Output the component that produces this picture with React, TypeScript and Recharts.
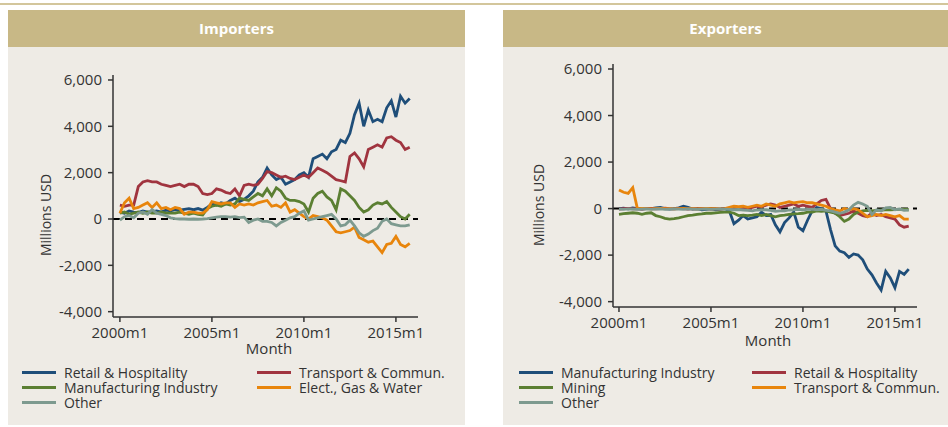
import React from 'react';
import { LineChart, Line, XAxis, YAxis, ReferenceLine } from 'recharts';

// quarterly observations, month index 0 = 2000m1
const QUARTER_MONTHS = Array.from({ length: 64 }, (_, i) => i * 3);
const X_TICKS = [0, 60, 120, 180];
const Y_TICKS = [-4000, -2000, 0, 2000, 4000, 6000];

// Importers
const impRetail = [
  300, 250, 350, 300, 280, 350, 300, 320, 350, 300, 380, 350, 400, 380, 420, 450,
  400, 450, 380, 500, 650, 600, 700, 650, 800, 900, 750, 850, 1000, 1200, 1600, 1800,
  2200, 1900, 1700, 1800, 1500, 1600, 1700, 1900, 2000, 1800, 2600, 2700, 2800, 2600, 2900, 3000,
  3400, 3300, 3700, 4500, 5000, 4000, 4700, 4200, 4300, 4200, 4800, 5100, 4400, 5300, 5000, 5200,
];
const impTransport = [
  600, 550, 600, 600, 1400, 1600, 1650, 1600, 1600, 1500, 1450, 1400, 1450, 1500, 1400, 1500,
  1500, 1400, 1100, 1050, 1100, 1300, 1250, 1150, 1100, 1300, 1000, 1450, 1500, 1450, 1500, 1750,
  2050, 2000, 1900, 1800, 1850, 1750, 1700, 1800, 1900, 1800, 2000, 2200, 2100, 2000, 1850, 1700,
  1650, 1600, 2700, 2850, 2600, 2250, 3000, 3100, 3200, 3100, 3500, 3550, 3400, 3300, 3000, 3100,
];
const impManufacturing = [
  250, 300, 200, 250, 300, 250, 300, 250, 250, 300, 250, 250, 250, 300, 250, 200,
  250, 200, 170, 450, 550, 600, 550, 650, 600, 650, 900, 850, 800, 950, 1100, 1000,
  1300, 1000, 1350, 1200, 900, 800, 800, 750, 650, 300, 900, 1100, 1200, 950, 800, 400,
  1300, 1200, 1000, 800, 500, 300, 400, 600, 700, 650, 750, 500, 300, 100, 0, 200,
];
const impElectricity = [
  250, 700, 900, 450, 500, 600, 700, 500, 700, 450, 500, 400, 500, 450, 200, 300,
  300, 250, 250, 400, 750, 700, 650, 700, 700, 500, 650, 600, 650, 600, 700, 750,
  800, 550, 600, 500, 700, 300, 400, 250, 100, 0, 150, 100, 50, -50, -300, -550,
  -600, -550, -500, -350, -800, -900, -1000, -950, -1200, -1450, -1100, -1050, -750, -1100, -1200, -1050,
];
const impOther = [
  -50, 100, 150, 50, 250, 300, 200, 400, 250, 200, 150, 50, 20, 0, 0, -10,
  0, -10, 0, 20, 50, 80, 100, 100, 80, 100, 60, 80, -150, -50, 0, -100,
  -100, -150, -300, -150, -50, 50, 100, 250, 350, -50, 0, 50, 100, 150, 200, 0,
  -300, -250, -50, -300, -600, -750, -650, -500, -400, -100, 0, -200, -250, -300, -300, -250,
];

// Exporters
const expManufacturing = [
  0, 20, -10, 30, 0, -20, 10, 0, 30, 50, 0, -20, 0, 30, 100, 50,
  -20, 0, -50, -30, 0, -50, -30, 0, -100, -650, -500, -300, -450, -400, -350, -150,
  -300, -250, -700, -1000, -600, -400, -150, -800, -950, -500, -100, 50, 0, -100, -900, -1600,
  -1830, -1900, -2100, -1950, -2000, -2200, -2600, -2850, -3200, -3500, -2700, -2980, -3400, -2700, -2830, -2600,
];
const expRetail = [
  -20, 0, 10, -10, 0, -20, 0, 10, -10, 0, 20, 0, -10, 10, 0, -20,
  0, -10, 10, 0, -20, 0, -10, 0, 0, -20, 0, 20, 0, 50, 100, 80,
  150, 200, 150, 50, 100, 150, 200, 100, 150, 100, 50, 200, 350, 400, 0, -200,
  -300, -250, -200, -100, -200, -300, -350, -200, -300, -250, -350, -400, -450, -700, -800, -750,
];
const expMining = [
  -250, -220, -200, -180, -200, -250, -200, -180, -300, -350, -420, -450, -430, -400, -350, -300,
  -280, -250, -230, -200, -200, -180, -160, -150, -150, -200, -300, -280, -300, -280, -250, -300,
  -250, -300, -350, -300, -280, -250, -230, -220, -200, -150, -150, -100, -120, -100, -150, -200,
  -350, -550, -450, -250, -150, -100, -80, -100, -80, -60, -50, -50, -40, -30, -20, -50,
];
const expTransport = [
  800, 700, 650, 900, 0, 10, 0, -10, 0, 10, 0, 0, -10, 0, 10, 0,
  0, -10, 0, 10, 0, 0, -10, 0, 50, 100, 80, 100, 50, 100, 150, 100,
  200, 150, 100, 200, 250, 300, 250, 280, 300, 250, 250, 200, 150, 100, 0, -50,
  -100, 0, -50, 0, -50, -200, -350, -300, -250, -300, -250, -300, -350, -300, -450, -450,
];
const expOther = [
  -20, -30, -10, -20, -30, -20, -10, -30, -20, -10, -30, -20, -10, -20, -30, -10,
  -20, -30, -20, -10, -30, -20, -10, -20, -30, -50, -40, -60, -80, -100, -60, -50,
  -50, -80, -120, -100, -100, -60, -50, -30, -50, -30, -20, -50, -30, -80, -100, -150,
  -200, -150, -50, 150, 270, 200, 100, -250, -50, -100, 30, 50, -50, -20, -80, -70,
];

const BLUE = '#1f4e79';
const RED = '#a0343f';
const GREEN = '#5b7f32';
const ORANGE = '#e8850c';
const GRAY = '#7d9a8f';

type Series = { key: string; name: string; color: string; values: number[] };

const importerSeries: Series[] = [
  { key: 'retail', name: 'Retail & Hospitality', color: BLUE, values: impRetail },
  { key: 'transport', name: 'Transport & Commun.', color: RED, values: impTransport },
  { key: 'manufacturing', name: 'Manufacturing Industry', color: GREEN, values: impManufacturing },
  { key: 'electricity', name: 'Elect., Gas & Water', color: ORANGE, values: impElectricity },
  { key: 'other', name: 'Other', color: GRAY, values: impOther },
];

const exporterSeries: Series[] = [
  { key: 'manufacturing', name: 'Manufacturing Industry', color: BLUE, values: expManufacturing },
  { key: 'retail', name: 'Retail & Hospitality', color: RED, values: expRetail },
  { key: 'mining', name: 'Mining', color: GREEN, values: expMining },
  { key: 'transport', name: 'Transport & Commun.', color: ORANGE, values: expTransport },
  { key: 'other', name: 'Other', color: GRAY, values: expOther },
];

const buildRows = (series: Series[]) =>
  QUARTER_MONTHS.map((m, i) => {
    const row: Record<string, number> = { m };
    series.forEach((s) => (row[s.key] = s.values[i]));
    return row;
  });

const FONT = '"Open Sans", "Noto Sans", sans-serif';
const TEXT = '#333333';

interface PanelProps {
  title: string;
  series: Series[];
  left: number;
  width: number;
  margin: { top: number; right: number; bottom: number; left: number };
  xDomain: [number, number];
  yLabelPos: [number, number];
  xLabelPos: [number, number];
  legendX: [number, number];
}

const Panel: React.FC<PanelProps> = ({ title, series, left, width, margin, xDomain, yLabelPos, xLabelPos, legendX }) => {
  const data = buildRows(series);
  return (
    <div style={{ position: 'absolute', left, top: 10, width, height: 415, background: '#eeebe5', fontFamily: FONT, color: TEXT }}>
      <div style={{ height: 37, background: '#c8b886', color: '#fff', fontWeight: 700, fontSize: 15, lineHeight: '37px', textAlign: 'center' }}>
        {title}
      </div>
      <div style={{ position: 'absolute', left: 0, top: 37 }}>
        <LineChart width={width} height={300} data={data} margin={margin} style={{ fontFamily: FONT }}>
          <XAxis
            dataKey="m"
            type="number"
            domain={xDomain}
            ticks={X_TICKS}
            tickFormatter={(m: number) => `${2000 + m / 12}m1`}
            allowDataOverflow
            height={25}
            tickSize={5}
            tickMargin={5}
            stroke={TEXT}
            strokeWidth={1.5}
            tick={{ fill: TEXT, fontSize: 15 }}
          />
          <YAxis
            type="number"
            domain={[-4230, 6215]}
            ticks={Y_TICKS}
            tickFormatter={(v: number) => v.toLocaleString('en-US')}
            allowDataOverflow
            width={60}
            tickSize={5}
            tickMargin={6}
            stroke={TEXT}
            strokeWidth={1.5}
            tick={{ fill: TEXT, fontSize: 15 }}
          />
          <ReferenceLine y={0} stroke="#000" strokeWidth={2} strokeDasharray="7 5" />
          {series.map((s) => (
            <Line key={s.key} type="linear" dataKey={s.key} name={s.name} stroke={s.color} strokeWidth={2.8} dot={false} isAnimationActive={false} />
          ))}
        </LineChart>
      </div>
      <div style={{ position: 'absolute', left: yLabelPos[0], top: yLabelPos[1], transform: 'translate(-50%, -50%) rotate(-90deg)', fontSize: 14, whiteSpace: 'nowrap' }}>
        Millions USD
      </div>
      <div style={{ position: 'absolute', left: xLabelPos[0], top: xLabelPos[1], transform: 'translate(-50%, -50%)', fontSize: 15, whiteSpace: 'nowrap' }}>
        Month
      </div>
      {series.map((s, i) => (
        <div
          key={s.key}
          style={{ position: 'absolute', left: legendX[i % 2], top: 355 + Math.floor(i / 2) * 15, height: 15, display: 'flex', alignItems: 'center', fontSize: 14, lineHeight: '15px', whiteSpace: 'nowrap' }}
        >
          <span style={{ display: 'inline-block', width: 34, height: 3, background: s.color, marginRight: 8 }} />
          {s.name}
        </div>
      ))}
    </div>
  );
};

export default function App() {
  return (
    <div style={{ position: 'absolute', left: 0, top: 0, width: 948, height: 427, background: '#fff', overflow: 'hidden' }}>
      <div style={{ position: 'absolute', left: 0, top: 3, width: 948, height: 2, background: '#d3c69c' }} />
      <Panel
        title="Importers"
        series={importerSeries}
        left={8}
        width={457}
        margin={{ top: 28, right: 47, bottom: 5, left: 45 }}
        xDomain={[-4.5, 194.4]}
        yLabelPos={[37, 205]}
        xLabelPos={[261, 338]}
        legendX={[14, 249]}
      />
      <Panel
        title="Exporters"
        series={exporterSeries}
        left={503}
        width={445}
        margin={{ top: 17, right: 31, bottom: 15, left: 50 }}
        xDomain={[-3.9, 194.4]}
        yLabelPos={[35, 195]}
        xLabelPos={[265, 330]}
        legendX={[16, 249]}
      />
    </div>
  );
}
